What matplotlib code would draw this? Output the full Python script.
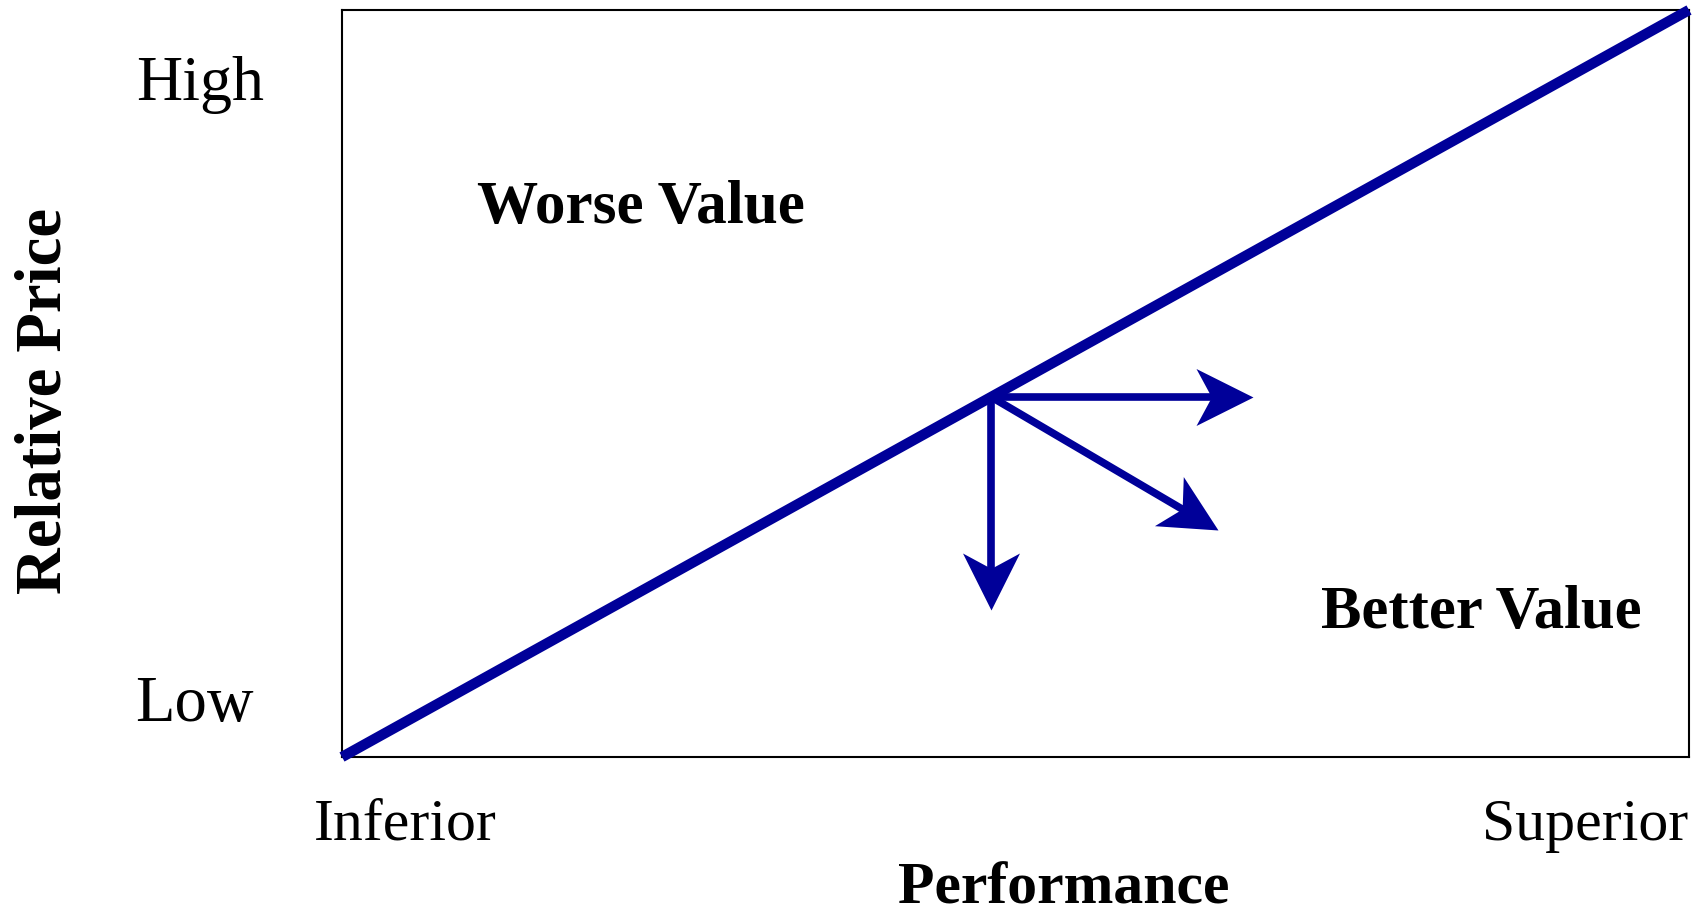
import numpy as np
import matplotlib.pyplot as plt
from matplotlib.path import Path
from matplotlib.markers import MarkerStyle
from matplotlib.transforms import Affine2D

# value line and the three "better value" arrows, in axes units (0..1)
line_x = [0.0, 1.0]
line_y = [0.0, 1.0]
start_x, start_y = 0.482, 0.482
tip_x = [0.676, 0.650, 0.482]
tip_y = [0.482, 0.304, 0.197]

y_labels = ["Low", "High"]
x_labels = ["Inferior", "Superior"]
regions = ["Worse Value", "Better Value"]

blue = "#000099"
W, H = 1702, 915
plt.rcParams['font.family'] = ['Liberation Serif', 'DejaVu Serif']

fig = plt.figure(figsize=(W / 100, H / 100), dpi=100)
ax = fig.add_axes([342 / W, 158 / H, 1347 / W, 747 / H])
ax.set_xlim(0, 1)
ax.set_ylim(0, 1)
ax.set_xticks([])
ax.set_yticks([])
for s in ax.spines.values():
    s.set_linewidth(1.5)

ax.plot(line_x, line_y, color=blue, lw=7.5, solid_capstyle='butt', clip_on=False, zorder=3)

# notched arrow head pointing along +x, tip at the origin
head = Path([(0, 0), (-1, 0.5), (-0.73, 0), (-1, -0.5), (0, 0)],
            [Path.MOVETO, Path.LINETO, Path.LINETO, Path.LINETO, Path.CLOSEPOLY])
head_len = 57  # pixels
to_data = ax.transData.inverted()
p0 = ax.transData.transform((start_x, start_y))
for tx, ty in zip(tip_x, tip_y):
    p1 = ax.transData.transform((tx, ty))
    d = p1 - p0
    u = d / np.hypot(d[0], d[1])
    ang = np.degrees(np.arctan2(d[1], d[0]))
    end = to_data.transform(p1 - u * head_len * 0.6)
    ax.plot([start_x, end[0]], [start_y, end[1]], color=blue, lw=5.5, solid_capstyle='butt', zorder=2)
    m = MarkerStyle(head, transform=Affine2D().rotate_deg(ang), joinstyle='miter')
    ax.plot([tx], [ty], marker=m, ms=head_len * 2 * 0.72, color=blue, mew=0, ls='none', zorder=2)


def px(x, y):
    return x / W, 1 - y / H


fig.text(*px(136, 100), y_labels[1], fontsize=46, ha='left', va='baseline')
fig.text(*px(135, 721), y_labels[0], fontsize=46.5, ha='left', va='baseline')
fig.text(*px(314, 840), x_labels[0], fontsize=43, ha='left', va='baseline')
fig.text(*px(1688, 840), x_labels[1], fontsize=43, ha='right', va='baseline')
fig.text(*px(1064, 904), "Performance", fontsize=43, fontweight='bold', ha='center', va='baseline')
fig.text(*px(61, 401), "Relative Price", fontsize=46.5, fontweight='bold', rotation=90,
         rotation_mode='anchor', ha='center', va='baseline')
fig.text(*px(477, 223), regions[0], fontsize=44, fontweight='bold', ha='left', va='baseline')
fig.text(*px(1321, 628), regions[1], fontsize=43.7, fontweight='bold', ha='left', va='baseline')

fig.savefig("out.png", dpi=100)
